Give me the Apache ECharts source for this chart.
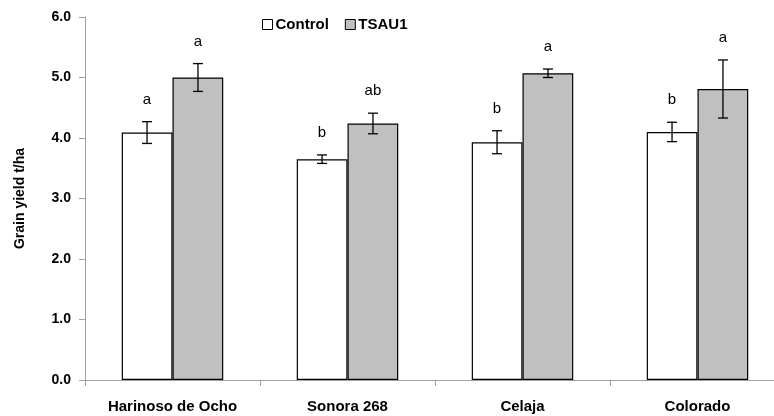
<!DOCTYPE html>
<html><head><meta charset="utf-8">
<script src="https://cdn.jsdelivr.net/npm/echarts@6/dist/echarts.min.js"></script>
<style>html,body{margin:0;padding:0;background:#fff}#c{width:774px;height:416px}</style>
</head><body><div id="c"></div>
<script>
var categories = ['Harinoso de Ocho', 'Sonora 268', 'Celaja', 'Colorado'];
var controlMean = [4.09, 3.65, 3.93, 4.10];
var controlErr = [0.18, 0.07, 0.19, 0.16];
var tsauMean = [5.00, 4.24, 5.07, 4.81];
var tsauErr = [0.23, 0.17, 0.07, 0.48];
var controlLetters = ['a', 'b', 'b', 'b'];
var tsauLetters = ['a', 'ab', 'a', 'a'];
var yTicks = ['0.0', '1.0', '2.0', '3.0', '4.0', '5.0', '6.0'];

var FONT = '"Liberation Sans", Arial, sans-serif';
var OFFSET = 0.1455; // bar center offset as fraction of band

function errData(means, errs, sign) {
  return means.map(function (m, i) { return [i, m - errs[i], m + errs[i], sign]; });
}
function letterData(means, errs, letters, sign) {
  return means.map(function (m, i) { return [i, m + errs[i], sign, letters[i]]; });
}
function renderErr(params, api) {
  var i = api.value(0);
  var band = api.size([1, 0])[0];
  var dx = api.value(3) * band * OFFSET;
  var lo = api.coord([i, api.value(1)]);
  var hi = api.coord([i, api.value(2)]);
  var x = lo[0] + dx;
  var cw = 5;
  var st = { stroke: '#000', lineWidth: 1.3 };
  return { type: 'group', children: [
    { type: 'line', shape: { x1: x, y1: lo[1], x2: x, y2: hi[1] }, style: st },
    { type: 'line', shape: { x1: x - cw, y1: lo[1], x2: x + cw, y2: lo[1] }, style: st },
    { type: 'line', shape: { x1: x - cw, y1: hi[1], x2: x + cw, y2: hi[1] }, style: st }
  ]};
}
function renderLetter(params, api) {
  var i = api.value(0);
  var band = api.size([1, 0])[0];
  var dx = api.value(2) * band * OFFSET;
  var p = api.coord([i, api.value(1)]);
  return { type: 'text', x: p[0] + dx, y: p[1] - 22,
    style: { text: api.value(3), fill: '#000', font: '15px ' + FONT, align: 'center', verticalAlign: 'middle' } };
}

var chart = echarts.init(document.getElementById('c'));
chart.setOption({
  animation: false,
  backgroundColor: '#fff',
  grid: { left: 85, top: 17, right: -11, bottom: 36, outerBoundsMode: 'none', containLabel: false },
  legend: {
    top: 12, left: 257, itemWidth: 10, itemHeight: 10, itemGap: 16,
    textStyle: { fontFamily: FONT, fontWeight: 'bold', fontSize: 15, color: '#000', padding: [0, 0, 0, -2] },
    data: [
      { name: 'Control', icon: 'rect', itemStyle: { color: '#fff', borderColor: '#000', borderWidth: 1 } },
      { name: 'TSAU1', icon: 'rect', itemStyle: { color: '#c0c0c0', borderColor: '#000', borderWidth: 1 } }
    ]
  },
  xAxis: {
    type: 'category', data: categories,
    axisLine: { lineStyle: { color: '#a0a0a0', width: 1 } },
    axisTick: { show: true, length: 6, lineStyle: { color: '#a0a0a0' } },
    axisLabel: { fontFamily: FONT, fontWeight: 'bold', fontSize: 15, color: '#000', margin: 19 }
  },
  yAxis: {
    type: 'value', min: 0, max: 6, interval: 1,
    name: 'Grain yield t/ha', nameLocation: 'middle', nameGap: 58, nameRotate: 90,
    nameTextStyle: { fontFamily: FONT, fontWeight: 'bold', fontSize: 14, color: '#000' },
    axisLine: { show: true, lineStyle: { color: '#a0a0a0', width: 1 } },
    axisTick: { show: true, length: 6, lineStyle: { color: '#a0a0a0' } },
    splitLine: { show: false },
    axisLabel: { fontFamily: FONT, fontWeight: 'bold', fontSize: 14, color: '#000', margin: 14,
      formatter: function (v) { return yTicks[Math.round(v)]; } }
  },
  series: [
    { name: 'Control', type: 'bar', data: controlMean, barGap: '0%', barCategoryGap: '42%',
      itemStyle: { color: '#fff', borderColor: '#000', borderWidth: 1.2 } },
    { name: 'TSAU1', type: 'bar', data: tsauMean, barGap: '0%', barCategoryGap: '42%',
      itemStyle: { color: '#c0c0c0', borderColor: '#000', borderWidth: 1.2 } },
    { type: 'custom', renderItem: renderErr, data: errData(controlMean, controlErr, -1), z: 5 },
    { type: 'custom', renderItem: renderErr, data: errData(tsauMean, tsauErr, 1), z: 5 },
    { type: 'custom', renderItem: renderLetter, data: letterData(controlMean, controlErr, controlLetters, -1), z: 5 },
    { type: 'custom', renderItem: renderLetter, data: letterData(tsauMean, tsauErr, tsauLetters, 1), z: 5 }
  ]
});
</script></body></html>
